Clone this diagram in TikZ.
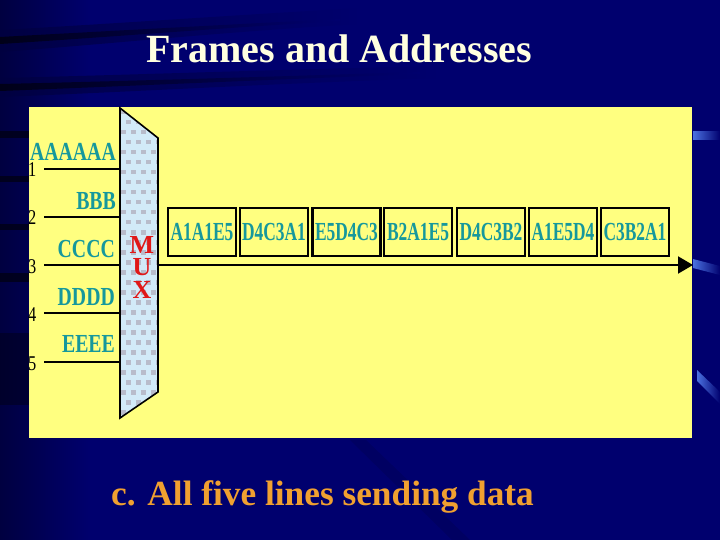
\documentclass[tikz,border=0pt]{standalone}
\usepackage{fontspec}
\setmainfont{Liberation Serif}
\usepackage{graphicx}
\usetikzlibrary{arrows.meta}
\definecolor{bgnavy}{HTML}{00006E}
\definecolor{bgdark}{HTML}{000040}
\definecolor{bandcore}{HTML}{000018}
\definecolor{panelyellow}{HTML}{FFFF80}
\definecolor{labteal}{HTML}{16989C}
\definecolor{muxred}{HTML}{E01818}
\definecolor{muxblue}{HTML}{D2EAF8}
\definecolor{muxgray}{HTML}{B8BCCB}
\definecolor{titlecream}{HTML}{FFFFE0}
\definecolor{captorange}{HTML}{F0A030}
\definecolor{streakblue}{HTML}{4A70E0}
\newcommand\lblsq[1]{\scalebox{0.76}[1]{#1}}
\newcommand\frsq[1]{\raisebox{-4pt}{\scalebox{0.67}[1]{#1}}}
\newcommand\numsq[1]{\scalebox{0.78}[1]{#1}}
\begin{document}
\begin{tikzpicture}[x=1pt,y=-1pt,
  lbl/.style={text=labteal,font=\fontsize{26}{26}\selectfont\bfseries,inner sep=0pt,anchor=base east},
  numlbl/.style={text=black,font=\fontsize{21}{21}\selectfont,inner sep=0pt,anchor=base west},
  frm/.style={draw=black,line width=2.2pt,minimum width=68pt,minimum height=48pt,inner sep=0pt,
    text=labteal,font=\fontsize{26}{26}\selectfont\bfseries},
  inline/.style={draw=black,line width=2pt},
  muxletter/.style={text=muxred,font=\fontsize{26}{22.5}\selectfont\bfseries,inner sep=0pt,align=center}]
\useasboundingbox (0,0) rectangle (720,540);
% background
\fill[bgnavy] (0,0) rectangle (720,540);
\shade[left color=bgdark,right color=bgnavy] (0,0) rectangle (90,540);
% soft bands
\shade[left color=bgdark,right color=bgnavy,opacity=0.8] (0,30) .. controls (110,24) and (220,16) .. (360,8) -- (360,24) .. controls (220,32) and (110,44) .. (0,52) -- cycle;
\shade[left color=bandcore,right color=bgnavy] (0,37) .. controls (110,31) and (220,25) .. (340,19) -- (340,21) .. controls (220,28) and (110,37) .. (0,44) -- cycle;
\shade[left color=bgdark,right color=bgnavy,opacity=0.8] (0,78) .. controls (130,75) and (260,70) .. (440,66) -- (440,78) .. controls (260,84) and (130,92) .. (0,97) -- cycle;
\shade[left color=bandcore,right color=bgnavy] (0,84) .. controls (130,81) and (260,77) .. (420,72) -- (420,74) .. controls (260,80) and (130,86) .. (0,91) -- cycle;
\foreach \yy/\hh in {131/7,176/6,224/6,273/9}
  \fill[bandcore,opacity=0.85] (0,\yy) rectangle (29,\yy+\hh);
\fill[bandcore,opacity=0.5] (0,333) rectangle (29,405);
\shade[left color=streakblue,right color=bgnavy] (693,132) rectangle (720,140);
\shade[left color=streakblue,right color=bgnavy] (693,259) -- (720,266) -- (720,275) -- (693,268) -- cycle;
\shade[left color=streakblue,right color=bgnavy] (697,370) -- (720,392) -- (720,404) -- (697,381) -- cycle;
\fill[black,opacity=0.1] (350,440) -- (366,440) -- (470,540) -- (452,540) -- cycle;
% title and caption
\node[text=titlecream,font=\fontsize{40}{40}\selectfont\bfseries,anchor=base west,inner sep=0pt] (title) at (146,63) {Frames and Addresses};
\node[text=captorange,font=\fontsize{35.3}{35.3}\selectfont\bfseries,anchor=base west,inner sep=0pt] (caption) at (111,505) {c. All five lines sending data};
% panel
\fill[panelyellow] (29,107) rectangle (692,438);
% MUX body
\begin{scope}
  \clip (120,108) -- (158,138) -- (158,392) -- (120,418) -- cycle;
  \fill[muxblue] (115,105) rectangle (162,420);
  \foreach \r in {0,...,31} {
    \pgfmathsetmacro\off{mod(\r,2)*5}
    \foreach \c in {0,...,4}
      \fill[muxgray] (121+\c*10+\off,110+\r*10) rectangle ++(4.5,4.5);
  }
\end{scope}
\draw[black,line width=1.6pt,line join=miter] (120,108) -- (158,138) -- (158,392) -- (120,418) -- cycle;
\node[muxletter] (muxtext) at (142,267) {M\\U\\X};
% input lines
\foreach \i/\yy in {1/169,2/217,3/265,4/313,5/362} {
  \coordinate (in\i) at (44,\yy);
  \coordinate (mx\i) at (120,\yy);
  \draw[inline] (in\i) -- (mx\i);
  \node[numlbl] (n\i) at (28,\yy+8) {\numsq{\i}};
}
% input labels
\node[lbl] (la) at (116,161) {\lblsq{AAAAAA}};
\node[lbl] (lb) at (116,210) {\lblsq{BBB}};
\node[lbl] (lc) at (115,257) {\lblsq{CCCC}};
\node[lbl] (ld) at (115,305) {\lblsq{DDDD}};
\node[lbl] (le) at (115,352) {\lblsq{EEEE}};
% output line
\coordinate (mxout) at (158,265);
\coordinate (outEnd) at (693,265);
\draw[black,line width=2pt,-{Triangle[length=15pt,width=17pt]}] (mxout) -- (outEnd);
% frames
\node[frm] (f1) at (202,232) {\frsq{A1A1E5}};
\node[frm] (f2) at (274,232) {\frsq{D4C3A1}};
\node[frm] (f3) at (346.5,232) {\frsq{E5D4C3}};
\node[frm] (f4) at (418,232) {\frsq{B2A1E5}};
\node[frm] (f5) at (491,232) {\frsq{D4C3B2}};
\node[frm] (f6) at (563,232) {\frsq{A1E5D4}};
\node[frm] (f7) at (635,232) {\frsq{C3B2A1}};
\end{tikzpicture}
\end{document}
